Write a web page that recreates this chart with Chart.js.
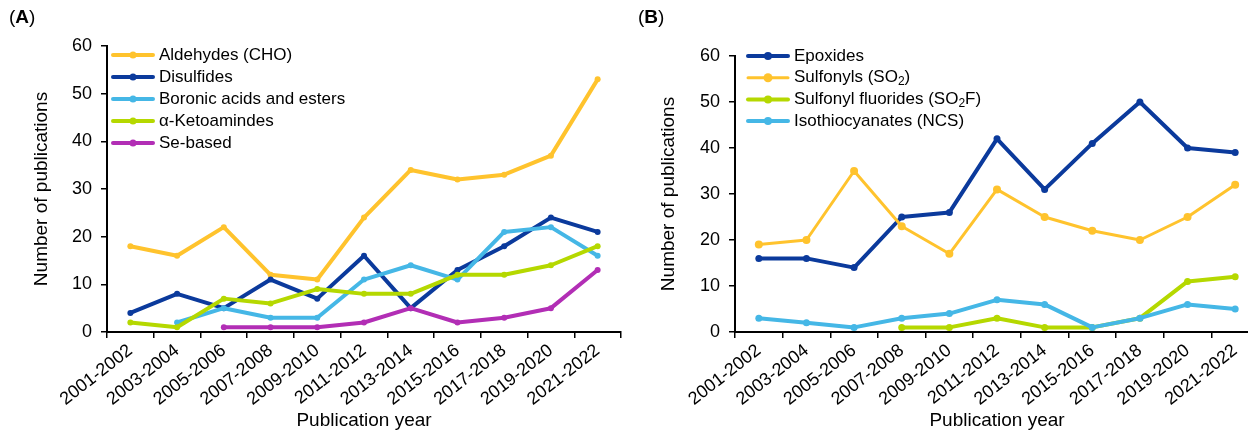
<!DOCTYPE html>
<html lang="en">
<head>
<meta charset="UTF-8" />
<title>Publications per warhead type</title>
<script src="https://cdn.jsdelivr.net/npm/chart.js@4.4.0/dist/chart.umd.min.js"></script>
<style>
  html, body { margin: 0; padding: 0; background: #fff; }
  body {
    width: 1248px;
    height: 432px;
    overflow: hidden;
    position: relative;
    font-family: "Liberation Sans", Arial, sans-serif;
  }
  .panel { position: absolute; top: 0; height: 432px; }
  #panelA { left: 0; width: 624px; }
  #panelB { left: 624px; width: 648px; }
  .tag { position: absolute; top: 6px; font-size: 19px; color: #000; }
</style>
</head>
<body>
<div class="panel" id="panelA"><canvas id="chartA"></canvas></div>
<div class="panel" id="panelB"><canvas id="chartB"></canvas></div>
<div class="tag" style="left:9px">(<b>A</b>)</div>
<div class="tag" style="left:638px">(<b>B</b>)</div>

<script>
// x categories, shared by both panels
const periods = ['2001-2002', '2003-2004', '2005-2006', '2007-2008', '2009-2010', '2011-2012',
                 '2013-2014', '2015-2016', '2017-2018', '2019-2020', '2021-2022'];

// panel A
const aldehydes  = [18, 16, 22, 12, 11, 24, 34, 32, 33, 37, 53];
const disulfides = [4, 8, 5, 11, 7, 16, 5, 13, 18, 24, 21];
const boronic    = [null, 2, 5, 3, 3, 11, 14, 11, 21, 22, 16];
const ketoamides = [2, 1, 7, 6, 9, 8, 8, 12, 12, 14, 18];
const seBased    = [null, null, 1, 1, 1, 2, 5, 2, 3, 5, 13];

// panel B
const epoxides          = [16, 16, 14, 25, 26, 42, 31, 41, 50, 40, 39];
const sulfonyls         = [19, 20, 35, 23, 17, 31, 25, 22, 20, 25, 32];
const sulfonylFluorides = [null, null, null, 1, 1, 3, 1, 1, 3, 11, 12];
const isothiocyanates   = [3, 2, 1, 3, 4, 7, 6, 1, 3, 6, 5];

const yMin = 0, yMax = 60, yStep = 10;

const FONT = '"Liberation Sans", Arial, sans-serif';
Chart.defaults.font.family = FONT;
Chart.defaults.color = '#000';

// legend drawn inside the plot: short line with a dot, then the label
const lineLegend = {
  id: 'lineLegend',
  afterDatasetsDraw(chart, args, opts) {
    const ctx = chart.ctx;
    ctx.save();
    chart.data.datasets.forEach((ds, i) => {
      const x = opts.left;
      const y = opts.top + i * opts.rowHeight;
      ctx.strokeStyle = ds.borderColor;
      ctx.lineWidth = ds.borderWidth;
      ctx.lineCap = 'round';
      ctx.beginPath();
      ctx.moveTo(x, y);
      ctx.lineTo(x + opts.lineLength, y);
      ctx.stroke();
      ctx.fillStyle = ds.borderColor;
      ctx.beginPath();
      ctx.arc(x + opts.lineLength / 2, y, ds.pointRadius + 0.5, 0, Math.PI * 2);
      ctx.fill();

      // label, with subscript digits drawn smaller and lower
      let tx = x + opts.lineLength + opts.gap;
      ctx.fillStyle = '#000';
      ctx.textBaseline = 'middle';
      ctx.textAlign = 'left';
      ds.label.split(/(₂)/).forEach(part => {
        if (!part) return;
        if (part === '₂') {
          ctx.font = (opts.size - 5) + 'px ' + FONT;
          ctx.fillText('2', tx, y + 4);
          tx += ctx.measureText('2').width;
        } else {
          ctx.font = opts.size + 'px ' + FONT;
          ctx.fillText(part, tx, y);
          tx += ctx.measureText(part).width;
        }
      });
    });
    ctx.restore();
  }
};

function makeSeries(label, data, color, width, radius, order) {
  return {
    label: label,
    data: data,
    borderColor: color,
    backgroundColor: color,
    borderWidth: width,
    pointRadius: radius,
    pointBorderWidth: 0,
    pointBackgroundColor: color,
    pointHoverRadius: radius,
    tension: 0,
    borderJoinStyle: 'round',
    borderCapStyle: 'round',
    spanGaps: false,
    order: order
  };
}

function makeOptions(cfg) {
  return {
    responsive: true,
    maintainAspectRatio: false,
    animation: false,
    layout: { padding: { top: cfg.top, right: cfg.right, left: 0, bottom: 0 } },
    plugins: {
      legend: { display: false },
      tooltip: { enabled: false },
      lineLegend: cfg.legend
    },
    scales: {
      x: {
        type: 'category',
        offset: true,
        grid: { offset: true, drawOnChartArea: false, drawTicks: true, tickLength: 6, color: '#000', lineWidth: 1.5 },
        border: { color: '#000', width: 2 },
        ticks: { autoSkip: false, minRotation: 38, maxRotation: 38, color: '#000', font: { size: 18 }, padding: 2 },
        title: { display: true, text: 'Publication year', color: '#000', font: { size: 19 }, padding: { top: 0, bottom: 0 } },
        afterFit: s => { s.height = 100; }
      },
      y: {
        min: yMin,
        max: yMax,
        ticks: { stepSize: yStep, color: '#000', font: { size: 18 }, padding: 9 },
        grid: { drawOnChartArea: false, drawTicks: true, tickLength: 6, color: '#000', lineWidth: 1.5 },
        border: { color: '#000', width: 2 },
        title: { display: true, text: 'Number of publications', color: '#000', font: { size: 19 }, padding: { top: cfg.titlePad, bottom: 0 } },
        afterFit: s => { s.width = cfg.axisLeft; }
      }
    }
  };
}

new Chart(document.getElementById('chartA'), {
  type: 'line',
  data: {
    labels: periods,
    datasets: [
      makeSeries('Aldehydes (CHO)', aldehydes, '#FFC32D', 4, 3, 5),
      makeSeries('Disulfides', disulfides, '#0B3A9C', 4, 3, 4),
      makeSeries('Boronic acids and esters', boronic, '#45B7E6', 4, 3, 3),
      makeSeries('α-Ketoamindes', ketoamides, '#B5D800', 4, 3, 2),
      makeSeries('Se-based', seBased, '#B22EB5', 4, 3, 1)
    ]
  },
  options: makeOptions({
    top: 46, right: 2, axisLeft: 107, titlePad: 30,
    legend: { left: 113, top: 55, rowHeight: 22, lineLength: 40, gap: 6, size: 17 }
  }),
  plugins: [lineLegend]
});

new Chart(document.getElementById('chartB'), {
  type: 'line',
  data: {
    labels: periods,
    datasets: [
      makeSeries('Epoxides', epoxides, '#0B3A9C', 4, 3.5, 4),
      makeSeries('Sulfonyls (SO₂)', sulfonyls, '#FFC32D', 3, 4, 3),
      makeSeries('Sulfonyl fluorides (SO₂F)', sulfonylFluorides, '#B5D800', 4, 3.5, 2),
      makeSeries('Isothiocyanates (NCS)', isothiocyanates, '#45B7E6', 4, 3.5, 1)
    ]
  },
  options: makeOptions({
    top: 56, right: 13, axisLeft: 111, titlePad: 33,
    legend: { left: 124, top: 56, rowHeight: 21.7, lineLength: 40, gap: 6, size: 17 }
  }),
  plugins: [lineLegend]
});
</script>
</body>
</html>
